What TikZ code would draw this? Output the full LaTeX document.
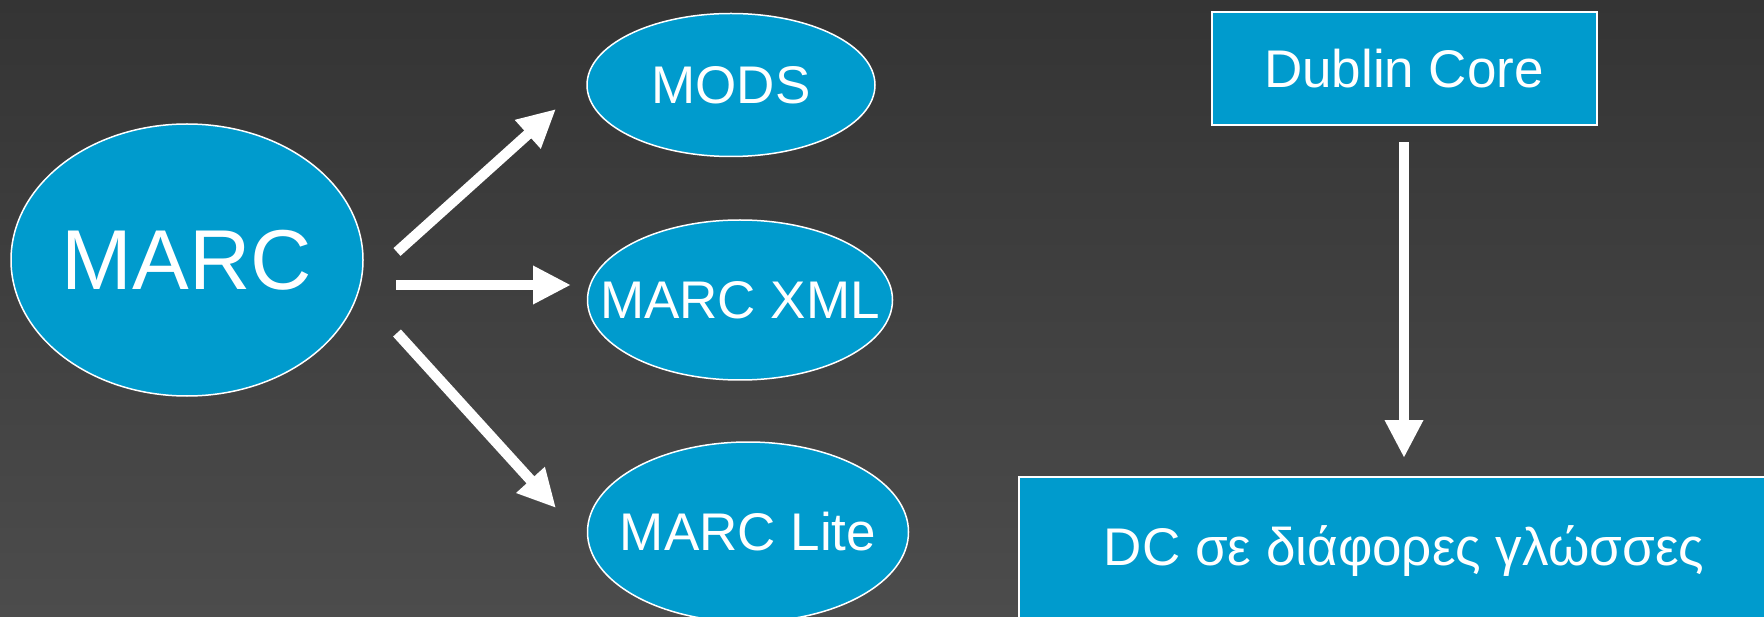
\documentclass[tikz,border=0pt]{standalone}
\usepackage{fontspec}
\setmainfont{Liberation Sans}
\usetikzlibrary{arrows.meta,shapes.geometric,positioning}
\definecolor{schemablue}{RGB}{0,155,205}
\definecolor{bgtop}{RGB}{52,52,52}
\definecolor{bgbottom}{RGB}{76,76,76}
\tikzset{
  schema/.style={ellipse,draw=white,line width=1.5pt,fill=schemablue,text=white,inner xsep=-50pt,inner ysep=-20pt,font=\fontsize{53}{60}\selectfont},
  stdbox/.style={rectangle,draw=white,line width=2pt,fill=schemablue,text=white,inner sep=0pt,font=\fontsize{53}{60}\selectfont},
  blockarrow/.style={draw=white,line width=10.5pt,-{Triangle[width=36pt,length=38pt]}}
}
\begin{document}
\begin{tikzpicture}[x=1pt,y=-1pt]
    \clip (0,0) rectangle (1764,617);
    \shade[top color=bgtop,bottom color=bgbottom] (0,0) rectangle (1764,617);
    % MARC and its derivatives
    \node[schema,minimum width=352pt,minimum height=272pt,font=\fontsize{85}{90}\selectfont] (marc) at (187,260) {MARC};
    \node[schema,minimum width=288pt,minimum height=143pt] (mods) at (731,85) {MODS};
    \node[schema,minimum width=305pt,minimum height=160pt] (marcxml) at (740,300) {MARC XML};
    \node[schema,minimum width=321pt,minimum height=180pt] (marclite) at (748,532) {MARC Lite};
    \coordinate (ua) at (397,252); \coordinate (ub) at (556,109);
    \coordinate (ma) at (396,285); \coordinate (mb) at (571,285);
    \coordinate (la) at (397,333); \coordinate (lb) at (556,508);
    \foreach \source/\dest in {ua/ub,ma/mb,la/lb}
        \path[blockarrow] (\source) -- (\dest);
    % Dublin Core
    \node[stdbox,minimum width=385pt,minimum height=113pt] (dc) at (1404,69) {Dublin Core};
    \node[stdbox,minimum width=770pt,minimum height=148pt] (dclang) at (1404,551) {DC σε διάφορες γλώσσες};
    \path[blockarrow,shorten <=16pt,shorten >=18pt] (dc.south) -- (dc.south |- dclang.north);
\end{tikzpicture}
\end{document}
